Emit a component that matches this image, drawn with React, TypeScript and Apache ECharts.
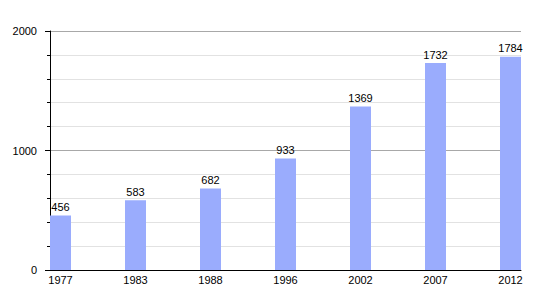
import React, { useEffect, useRef } from "react";
import * as echarts from "echarts";

const years = ["1977", "1983", "1988", "1996", "2002", "2007", "2012"];
const population = [456, 583, 682, 933, 1369, 1732, 1784];
const yMin = 0;
const yMax = 2000;
const yInterval = 1000;

export default function App() {
  const ref = useRef<HTMLDivElement>(null);
  useEffect(() => {
    if (!ref.current) return;
    const chart = echarts.init(ref.current, undefined, { renderer: "svg" });
    const font = "'Liberation Sans', Arial, sans-serif";
    chart.setOption({
      animation: false,
      backgroundColor: "#ffffff",
      textStyle: { fontFamily: font },
      grid: [
        { left: 50, top: 31, width: 471, height: 239 },
        { left: 60.5, top: 31, width: 450, height: 239 },
      ],
      xAxis: [
        {
          type: "category",
          gridIndex: 0,
          data: years,
          axisLine: { show: true, lineStyle: { color: "#000", width: 1 } },
          axisTick: { show: false },
          axisLabel: { show: false },
          splitLine: { show: false },
        },
        {
          type: "category",
          gridIndex: 1,
          data: years,
          boundaryGap: false,
          axisLine: { show: false },
          axisTick: { show: false },
          axisLabel: { color: "#000", fontSize: 11, margin: 4, fontFamily: font, interval: 0 },
          splitLine: { show: false },
        },
      ],
      yAxis: [
        {
          type: "value",
          gridIndex: 0,
          min: yMin,
          max: yMax,
          interval: yInterval,
          axisLine: { show: true, lineStyle: { color: "#000", width: 1 } },
          axisTick: { show: true, length: 5, lineStyle: { color: "#000" } },
          minorTick: { show: true, splitNumber: 5, length: 3, lineStyle: { color: "#000" } },
          axisLabel: {
            color: "#000",
            fontSize: 11,
            margin: 13,
            fontFamily: font,
            formatter: (v: number) => String(v),
          },
          splitLine: { show: true, lineStyle: { color: "#a8a8a8", width: 1 } },
          minorSplitLine: { show: true, lineStyle: { color: "#e2e2e2", width: 1 } },
        },
        {
          type: "value",
          gridIndex: 1,
          min: yMin,
          max: yMax,
          show: false,
          splitLine: { show: false },
        },
      ],
      series: [
        {
          type: "bar",
          xAxisIndex: 1,
          yAxisIndex: 1,
          data: population,
          barWidth: 21,
          itemStyle: { color: "#9aacfd" },
          label: {
            show: true,
            position: "top",
            distance: 3,
            color: "#000",
            fontSize: 11,
            fontFamily: font,
          },
        },
      ],
    });
    return () => chart.dispose();
  }, []);
  return (
    <div
      ref={ref}
      style={{ position: "absolute", left: 0, top: 0, width: 550, height: 300 }}
    />
  );
}
